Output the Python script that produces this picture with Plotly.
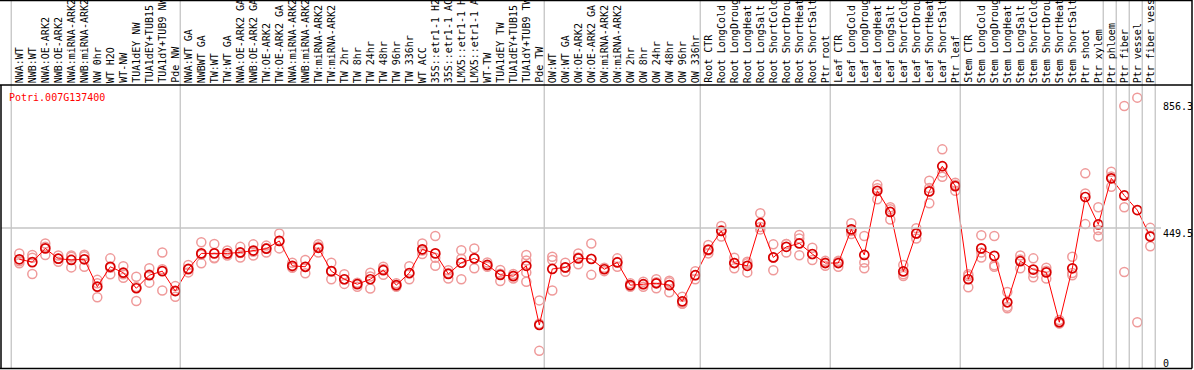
import plotly.graph_objects as go

gene = "Potri.007G137400"

samples = [
    "NWA:WT", "NWB:WT", "NWA:OE-ARK2", "NWB:OE-ARK2", "NWA:miRNA-ARK2", "NWB:miRNA-ARK2",
    "NW 0hr", "WT H2O", "WT-NW", "TUA1dEY NW", "TUA1dEY+TUB15", "TUA1dY+TUB9 NW", "Pde NW",
    "NWA:WT GA", "NWBWT GA", "TW:WT", "TW:WT GA", "NWA:OE-ARK2 GA", "NWB:OE-ARK2 GA",
    "TW:OE-ARK2", "TW:OE-ARK2 GA", "NWA:miRNA-ARK2", "NWB:miRNA-ARK2", "TW:miRNA-ARK2",
    "TW:miRNA-ARK2", "TW 2hr", "TW 8hr", "TW 24hr", "TW 48hr", "TW 96hr", "TW 336hr",
    "WT ACC", "35S::etr1-1 H2", "35S::etr1-1 AC", "LMX5::etr1-1 H", "LMX5::etr1-1 A",
    "WT-TW", "TUA1dEY TW", "TUA1dEY+TUB15", "TUA1dY+TUB9 TW", "Pde TW",
    "OW:WT", "OW:WT GA", "OW:OE-ARK2", "OW:OE-ARK2 GA", "OW:miRNA-ARK2", "OW:miRNA-ARK2",
    "OW 2hr", "OW 8hr", "OW 24hr", "OW 48hr", "OW 96hr", "OW 336hr",
    "Root CTR", "Root LongCold", "Root LongDroug", "Root LongHeat", "Root LongSalt",
    "Root ShortCold", "Root ShortDrou", "Root ShortHeat", "Root ShortSalt", "Ptr root",
    "Leaf CTR", "Leaf LongCold", "Leaf LongDroug", "Leaf LongHeat", "Leaf LongSalt",
    "Leaf ShortCold", "Leaf ShortDrou", "Leaf ShortHeat", "Leaf ShortSalt", "Ptr leaf",
    "Stem CTR", "Stem LongCold", "Stem LongDroug", "Stem LongHeat", "Stem LongSalt",
    "Stem ShortCold", "Stem ShortDrou", "Stem ShortHeat", "Stem ShortSalt", "Ptr shoot",
    "Ptr xylem", "Ptr phloem", "Ptr fiber", "Ptr vessel", "Ptr fiber vess",
]

group_sizes = [13, 28, 12, 10, 10, 11, 1, 1, 1, 1]

means = [
    349, 340, 384, 351, 347, 349, 261, 325, 306, 256, 298, 311, 247,
    318, 368, 368, 368, 371, 377, 383, 408, 328, 325, 386, 311, 285, 269, 285, 314,
    266, 305, 381, 368, 302, 338, 352, 331, 299, 295, 328, 138,
    318, 323, 352, 350, 317, 339, 266, 269, 272, 266, 214, 298,
    380, 440, 337, 328, 465, 355, 389, 400, 366, 337,
    337, 445, 363, 569, 501, 310, 432, 567, 648, 584,
    285, 384, 360, 211, 343, 316, 307, 147, 320, 549, 461,
    609, 554, 507, 422,
]

replicates = [
    [368, 343, 336], [363, 354, 302], [400, 389, 363], [361, 351, 341], [357, 361, 323],
    [364, 359, 325], [283, 272, 227], [352, 322, 301], [327, 301, 290], [293, 260, 215],
    [320, 300, 274], [371, 317, 249], [263, 249, 229],
    [331, 316, 307], [404, 364, 336], [398, 352, 354], [377, 366, 361], [389, 369, 355],
    [397, 373, 361], [393, 385, 371], [432, 408, 384], [338, 324, 322], [347, 324, 304],
    [397, 390, 371], [338, 310, 285], [301, 284, 270], [274, 272, 261], [306, 294, 255],
    [325, 318, 299], [272, 265, 261], [327, 303, 285], [400, 377, 366], [424, 354, 328],
    [314, 305, 287], [378, 351, 285], [384, 352, 320], [339, 329, 325], [315, 303, 279],
    [302, 296, 287], [363, 345, 307, 277], [217, 142, 55],
    [357, 347, 249], [338, 322, 309], [368, 355, 333], [400, 351, 299], [322, 318, 311],
    [352, 340, 325], [272, 265, 261], [277, 269, 261], [285, 275, 256], [280, 275, 243],
    [229, 207, 206], [311, 298, 285],
    [395, 377, 368], [456, 442, 422], [354, 337, 320], [341, 336, 307], [497, 453, 445],
    [397, 354, 314], [398, 398, 371], [427, 416, 362], [386, 365, 347], [344, 339, 328],
    [344, 342, 325], [465, 440, 430], [424, 339, 320], [577, 588, 542], [510, 516, 477],
    [331, 301, 295], [449, 431, 416], [601, 578, 529], [702, 628, 614], [595, 588, 569],
    [301, 295, 259], [426, 371, 355], [424, 330, 325], [244, 197, 192], [361, 348, 320],
    [352, 305, 291], [322, 312, 287], [154, 144, 143], [357, 305, 298], [625, 560, 462],
    [516, 443, 422],
    [630, 615, 582], [841, 516, 308], [868, 147], [450, 425, 391],
]

y_ticks = [856.3, 449.5, 0]
y_tick_text = ["856.3", "449.5", "0"]

# ---------------- layout geometry (pixels) ----------------
W, H = 1194, 370
X0_PX, X_STEP = 19.3, 13.0          # pixel of first sample, spacing
Y0_PX = 368.0                        # pixel of value 0
PX_PER_UNIT = 140.0 / 449.5
HEADER_PX = 85.0
RIGHT_PX = 1192.0


def px_x(px):
    return px / W


def px_y(py):
    return 1 - py / H


x_range = [(0 - X0_PX) / X_STEP, (W - X0_PX) / X_STEP]
y_range = [(Y0_PX - H) / PX_PER_UNIT, Y0_PX / PX_PER_UNIT]

idx = list(range(len(samples)))
rep_x, rep_y = [], []
for i, vals in enumerate(replicates):
    for v in vals:
        rep_x.append(i)
        rep_y.append(v)

mono = "DejaVu Sans Mono"

fig = go.Figure()
fig.add_trace(go.Scatter(
    x=rep_x, y=rep_y, mode="markers",
    marker=dict(symbol="circle-open", size=9, color="#ef9a9a", line=dict(width=1.5, color="#ef9a9a")),
    hoverinfo="skip", showlegend=False,
))
fig.add_trace(go.Scatter(
    x=idx, y=means, mode="lines+markers",
    line=dict(color="#ff0000", width=1),
    marker=dict(symbol="circle-open", size=9, color="#d80000", line=dict(width=1.7, color="#d80000")),
    showlegend=False,
))

shapes = []
gray = "#c4c4c4"
bounds = [-1]
acc = -1
for g in group_sizes:
    acc += g
    bounds.append(acc)
for b in bounds:
    xp = X0_PX + (b + 0.38) * X_STEP
    shapes.append(dict(type="line", xref="paper", yref="paper", x0=px_x(xp), x1=px_x(xp),
                       y0=px_y(0), y1=px_y(368), line=dict(color=gray, width=1.3)))
shapes.append(dict(type="line", xref="paper", yref="y", x0=px_x(1), x1=px_x(1161),
                   y0=y_ticks[1], y1=y_ticks[1], line=dict(color=gray, width=1.3)))
black = dict(color="black", width=1.5)
shapes.append(dict(type="line", xref="paper", yref="paper", x0=0, x1=px_x(RIGHT_PX),
                   y0=px_y(HEADER_PX), y1=px_y(HEADER_PX), line=black))
shapes.append(dict(type="line", xref="paper", yref="paper", x0=0, x1=px_x(RIGHT_PX),
                   y0=px_y(0.6), y1=px_y(0.6), line=black))
shapes.append(dict(type="line", xref="paper", yref="paper", x0=0, x1=px_x(RIGHT_PX),
                   y0=px_y(368.5), y1=px_y(368.5), line=black))
shapes.append(dict(type="line", xref="paper", yref="paper", x0=px_x(1), x1=px_x(1),
                   y0=px_y(HEADER_PX), y1=px_y(368.5), line=black))
shapes.append(dict(type="line", xref="paper", yref="paper", x0=px_x(RIGHT_PX), x1=px_x(RIGHT_PX),
                   y0=px_y(0), y1=px_y(368.5), line=black))

annotations = []
for i, s in enumerate(samples):
    annotations.append(dict(
        x=i, xref="x", y=px_y(84), yref="paper", text=s, textangle=-90,
        showarrow=False, xanchor="center", yanchor="bottom",
        font=dict(family=mono, size=10, color="black"),
        borderpad=0,
    ))
annotations.append(dict(
    x=px_x(8), xref="paper", y=px_y(97), yref="paper", text=gene, showarrow=False,
    xanchor="left", yanchor="middle", font=dict(family=mono, size=10, color="#ff0000"), borderpad=0,
))
for v, t in zip(y_ticks, y_tick_text):
    annotations.append(dict(
        x=px_x(1162), xref="paper", y=v, yref="y", text=t, showarrow=False,
        xanchor="left", yanchor="bottom" if v == 0 else "top",
        yshift=-2 if v == 0 else 1,
        font=dict(family=mono, size=10, color="black"), borderpad=0,
    ))

fig.update_layout(
    width=W, height=H,
    margin=dict(l=0, r=0, t=0, b=0),
    paper_bgcolor="white", plot_bgcolor="white",
    xaxis=dict(range=x_range, visible=False, fixedrange=True),
    yaxis=dict(range=y_range, visible=False, fixedrange=True),
    shapes=shapes, annotations=annotations,
    showlegend=False,
)

fig.write_html(
    "out.html",
    config={"displayModeBar": False},
    post_script="document.body.style.margin='0';document.body.style.overflow='hidden';",
)
